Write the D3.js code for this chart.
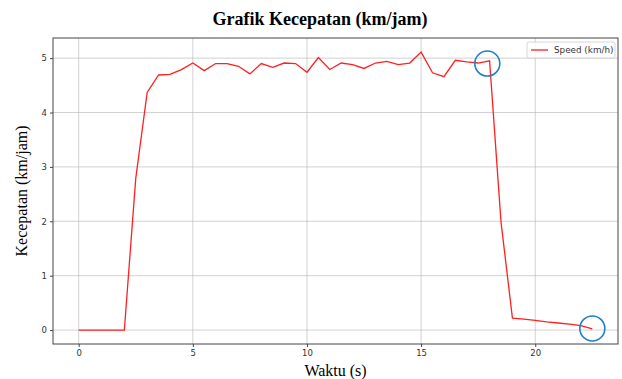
<!DOCTYPE html>
<html>
<head>
<meta charset="utf-8">
<script src="https://cdn.jsdelivr.net/npm/d3@7"></script>
<style>
  body { margin: 0; background: #fff; }
  svg { display: block; }
</style>
</head>
<body>
<div id="chart"></div>
<script>
const waktu = [0, 0.5, 1, 1.5, 2, 2.5, 3, 3.5, 4, 4.5, 5, 5.5, 6, 6.5, 7, 7.5, 8, 8.5, 9, 9.5,
  10, 10.5, 11, 11.5, 12, 12.5, 13, 13.5, 14, 14.5, 15, 15.5, 16, 16.5, 17, 17.5, 18, 18.5,
  19, 19.5, 20, 20.5, 21, 21.5, 22, 22.5];
const kecepatan = [0, 0, 0, 0, 0, 2.79, 4.37, 4.69, 4.70, 4.79, 4.91, 4.77, 4.90, 4.90, 4.85, 4.71,
  4.90, 4.83, 4.91, 4.90, 4.74, 5.01, 4.79, 4.91, 4.88, 4.81, 4.91, 4.94, 4.88, 4.91,
  5.11, 4.73, 4.66, 4.96, 4.93, 4.91, 4.95, 1.99, 0.22, 0.20, 0.18, 0.15, 0.13, 0.11, 0.08, 0.02];
const xTicks = [0, 5, 10, 15, 20];
const yTicks = [0, 1, 2, 3, 4, 5];
// the two blue circles drawn over the plot (data coords)
const highlights = [[17.9, 4.9], [22.5, 0.03]];

const width = 622, height = 379;
const margin = { top: 38, right: 4, bottom: 35, left: 53 };
const innerW = width - margin.left - margin.right;
const innerH = height - margin.top - margin.bottom;

const svg = d3.select('#chart').append('svg').attr('width', width).attr('height', height);

const x = d3.scaleLinear().domain([-1.125, 23.625]).range([0, innerW]);
const y = d3.scaleLinear().domain([-0.256, 5.37]).range([innerH, 0]);

const g = svg.append('g').attr('transform', `translate(${margin.left},${margin.top})`);

// grid
g.append('g').selectAll('line').data(xTicks).join('line')
  .attr('x1', d => x(d)).attr('x2', d => x(d)).attr('y1', 0).attr('y2', innerH)
  .attr('stroke', '#b0b0b0').attr('stroke-width', 0.8).attr('opacity', 0.7);
g.append('g').selectAll('line').data(yTicks).join('line')
  .attr('y1', d => y(d)).attr('y2', d => y(d)).attr('x1', 0).attr('x2', innerW)
  .attr('stroke', '#b0b0b0').attr('stroke-width', 0.8).attr('opacity', 0.7);

// axes
const xAxis = g.append('g').attr('transform', `translate(0,${innerH})`)
  .call(d3.axisBottom(x).tickValues(xTicks).tickFormat(d3.format('d')).tickSize(3).tickPadding(3));
const yAxis = g.append('g')
  .call(d3.axisLeft(y).tickValues(yTicks).tickFormat(d3.format('d')).tickSize(3).tickPadding(3));
[xAxis, yAxis].forEach(a => {
  a.select('.domain').remove();
  a.selectAll('line').attr('stroke', '#444');
  a.selectAll('text').attr('fill', '#333').attr('font-family', 'DejaVu Sans').attr('font-size', '8.5px');
});

// frame
g.append('rect').attr('width', innerW).attr('height', innerH)
  .attr('fill', 'none').attr('stroke', '#444').attr('stroke-width', 1);

// speed line
const line = d3.line().x((d, i) => x(waktu[i])).y(d => y(d));
g.append('path').datum(kecepatan)
  .attr('d', line).attr('fill', 'none').attr('stroke', '#ff2020').attr('stroke-width', 1.3);

// blue circles
g.selectAll('.hl').data(highlights).join('circle').attr('class', 'hl')
  .attr('cx', d => x(d[0])).attr('cy', d => y(d[1])).attr('r', 12.5)
  .attr('fill', 'none').attr('stroke', '#1f7fc8').attr('stroke-width', 1.6);

// legend
const leg = g.append('g').attr('transform', `translate(${innerW - 91},4)`);
leg.append('rect').attr('width', 88).attr('height', 16).attr('rx', 2)
  .attr('fill', '#fff').attr('fill-opacity', 0.8).attr('stroke', '#ccc').attr('stroke-width', 0.8);
leg.append('line').attr('x1', 4).attr('x2', 21).attr('y1', 8).attr('y2', 8)
  .attr('stroke', '#ff2020').attr('stroke-width', 1.3);
leg.append('text').attr('x', 27).attr('y', 11).text('Speed (km/h)')
  .attr('font-family', 'DejaVu Sans').attr('font-size', '8.8px').attr('fill', '#333');

// titles
svg.append('text').attr('x', 320).attr('y', 25).attr('text-anchor', 'middle')
  .attr('font-family', 'Liberation Serif').attr('font-weight', 'bold').attr('font-size', '18px')
  .text('Grafik Kecepatan (km/jam)');
svg.append('text').attr('x', margin.left + innerW / 2).attr('y', 376).attr('text-anchor', 'middle')
  .attr('font-family', 'Liberation Serif').attr('font-size', '16px')
  .text('Waktu (s)');
svg.append('text').attr('transform', `translate(27,${margin.top + innerH / 2}) rotate(-90)`)
  .attr('text-anchor', 'middle')
  .attr('font-family', 'Liberation Serif').attr('font-size', '16px')
  .text('Kecepatan (km/jam)');
</script>
</body>
</html>
